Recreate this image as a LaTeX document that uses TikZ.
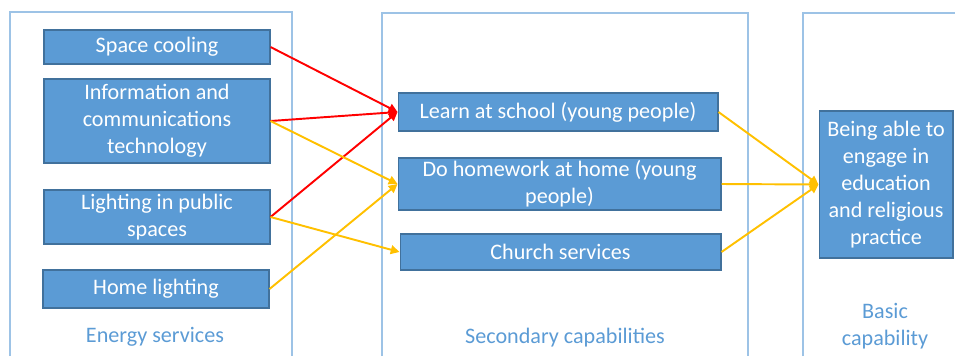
\documentclass[tikz,border=0pt]{standalone}
\usepackage{fontspec}
\setmainfont{Carlito}
\usetikzlibrary{arrows.meta}
\definecolor{boxblue}{HTML}{5B9BD5}
\definecolor{boxedge}{HTML}{41719C}
\definecolor{framec}{HTML}{9DC3E6}
\definecolor{amber}{HTML}{FFC000}

\begin{document}
\begin{tikzpicture}[x=0.02cm, y=-0.02cm,
    box/.style={draw=boxedge, fill=boxblue, text=white, align=center, inner sep=0pt, line width=0.6pt, font=\fontsize{12.6}{15.3}\selectfont},
    lab/.style={text=boxblue, align=center, font=\fontsize{12.6}{15.3}\selectfont},
    redarr/.style={draw=red, line width=1.1pt, -{Triangle[length=5pt,width=5pt]}},
    ambarr/.style={draw=amber, line width=1.1pt, -{Triangle[length=5pt,width=5pt]}}]
    \useasboundingbox (0,0) rectangle (955,356);

    % Column frames
    \draw[framec, line width=0.6pt] (10,356) |- (292,12) -- (292,356);
    \draw[framec, line width=0.6pt] (382,356) |- (748,13) -- (748,356);
    \draw[framec, line width=0.6pt] (803,356) |- (960,13);

    % Energy services
    \node[box, minimum width=4.52cm, minimum height=0.68cm] (sc) at (157,47) {Space cooling};
    \node[box, minimum width=4.52cm, minimum height=1.68cm] (ict) at (157,121) {Information and\\communications\\technology};
    \node[box, minimum width=4.52cm, minimum height=1.08cm] (lp) at (157,217) {Lighting in public\\spaces};
    \node[box, minimum width=4.52cm, minimum height=0.76cm] (hl) at (156,289) {Home lighting};
    \node[lab] (es) at (155,337) {Energy services};

    % Secondary capabilities
    \node[box, minimum width=6.4cm, minimum height=0.76cm] (ls) at (558,112) {Learn at school (young people)};
    \node[box, minimum width=6.46cm, minimum height=1.04cm] (hw) at (559.5,184) {Do homework at home (young\\people)};
    \node[box, minimum width=6.42cm, minimum height=0.72cm] (cs) at (560.5,252) {Church services};
    \node[lab] (sec) at (565,338) {Secondary capabilities};

    % Basic capability
    \node[box, minimum width=2.68cm, minimum height=2.94cm] (bc) at (886,184.5) {Being able to\\engage in\\education\\and religious\\practice};
    \node[lab] (bas) at (885,326) {Basic\\capability};

    % Links
    \foreach \s in {sc,ict,lp}
        \draw[redarr] (\s.east) -- (ls.west);
    \draw[ambarr] (ict.east) -- (hw.west);
    \draw[ambarr] (hl.east) -- (hw.west);
    \draw[ambarr] (lp.east) -- (cs.west);
    \foreach \s in {ls,hw,cs}
        \draw[ambarr] (\s.east) -- (bc.west);
\end{tikzpicture}
\end{document}
